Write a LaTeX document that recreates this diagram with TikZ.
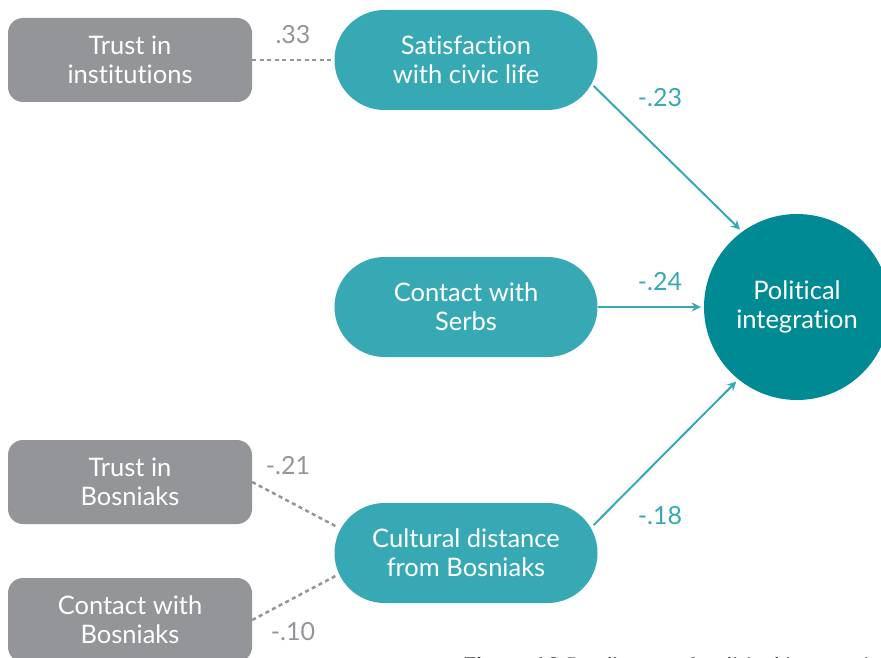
\documentclass[tikz,border=0pt]{standalone}
\usepackage{fontspec}
\setmainfont{Lato}[Ligatures=NoCommon]
\usetikzlibrary{arrows.meta}
\definecolor{tealA}{HTML}{36A9B5}
\definecolor{tealB}{HTML}{008B94}
\definecolor{grayA}{HTML}{939598}
\definecolor{capcol}{HTML}{231F20}
\begin{document}
\begin{tikzpicture}[x=1pt,y=-1pt,
  pill/.style={fill=tealA, rounded corners=50pt, minimum width=263pt, minimum height=100pt, inner sep=0pt, text=white, align=center, font=\fontsize{25.5}{29}\selectfont},
  greybox/.style={fill=grayA, rounded corners=15pt, minimum width=244pt, minimum height=84pt, inner sep=0pt, text=white, align=center, font=\fontsize{25.5}{29}\selectfont},
  target/.style={circle, fill=tealB, minimum size=186pt, inner sep=0pt, text=white, align=center, font=\fontsize{25.5}{29}\selectfont},
  arr/.style={draw=tealA, line width=2pt, -{Stealth[length=9pt,width=9pt]}, shorten >=3pt},
  dashline/.style={draw=grayA, line width=2.5pt, dash pattern=on 4pt off 3.5pt},
  tlab/.style={text=tealA, font=\fontsize{25}{28}\selectfont, inner sep=0pt},
  glab/.style={text=grayA, font=\fontsize{25}{28}\selectfont, inner sep=0pt}
]
\useasboundingbox (0,0) rectangle (881,658);
\fill[white] (0,0) rectangle (881,658);

\node[pill] (sat) at (466,60) {Satisfaction\\with civic life};
\node[pill] (ser) at (466,307) {Contact with\\Serbs};
\node[pill] (cul) at (466,553) {Cultural distance\\from Bosniaks};
\node[greybox] (tin) at (130,60) {Trust in\\institutions};
\node[greybox] (tbo) at (130,482) {Trust in\\Bosniaks};
\node[greybox] (cbo) at (130,620) {Contact with\\Bosniaks};
\node[target] (pol) at (797,307) {Political\\integration};

\draw[arr] ([xshift=-4pt,yshift=-26pt]sat.east) -- (pol.126);
\draw[arr] (ser.east) -- (pol.west);
\draw[arr] ([xshift=-4pt,yshift=28pt]cul.east) -- (pol.231);

\draw[dashline] (tin.east) -- (sat.west);
\draw[dashline] (tbo.east) -- ([xshift=3pt,yshift=26pt]cul.west);
\draw[dashline] (cbo.east) -- ([xshift=3pt,yshift=-22pt]cul.west);

\node[tlab] (l23) at (660,98) {-.23};
\node[tlab] (l24) at (660,282) {-.24};
\node[tlab] (l18) at (660,516) {-.18};
\node[glab] (l33) at (293,35) {.33};
\node[glab] (l21) at (288,466) {-.21};
\node[glab] (l10) at (293,632) {-.10};

\node[anchor=base west, inner sep=0pt, text=capcol, font=\fontsize{23}{26}\selectfont] (cap) at (463,674) {\textbf{Figure 13} Predictors of political integration};
\end{tikzpicture}
\end{document}
